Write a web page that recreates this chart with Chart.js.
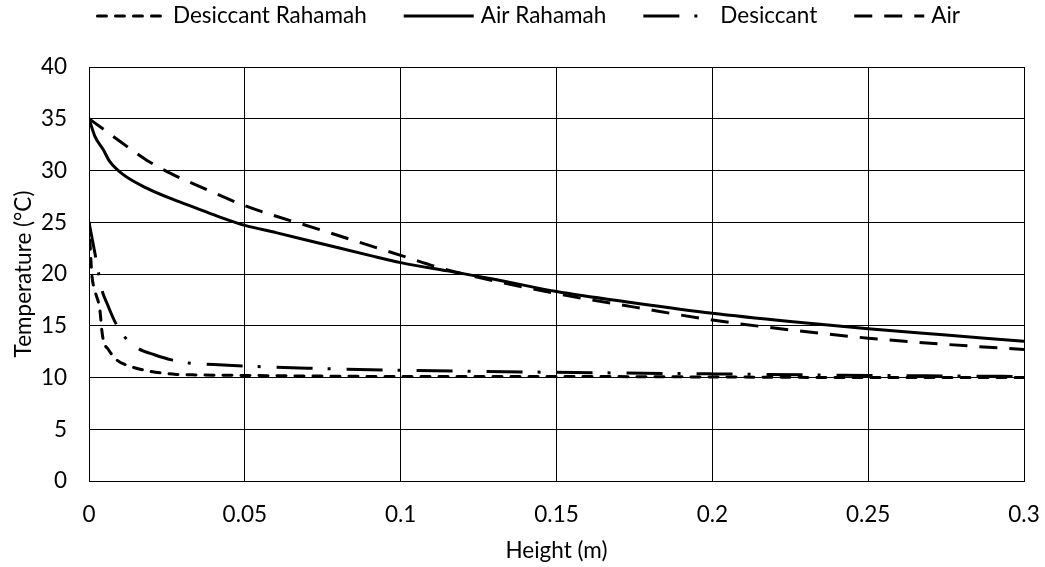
<!DOCTYPE html>
<html><head><meta charset="utf-8">
<script src="https://cdn.jsdelivr.net/npm/chart.js@4/dist/chart.umd.min.js"></script>
<style>html,body{margin:0;padding:0;background:#fff}</style>
</head><body>
<canvas id="c" width="1045" height="567"></canvas>
<script>
const FONT = "Lato, 'Liberation Sans', Arial, sans-serif";
const FSIZE = 22.5;

const seriesNames = ['Desiccant Rahamah', 'Air Rahamah', 'Desiccant', 'Air'];

const desRahHeight = [0, 0.0009, 0.0019, 0.0035, 0.0041, 0.0046, 0.0062, 0.0089, 0.012, 0.0164, 0.0228, 0.028, 0.035, 0.05, 0.1, 0.15, 0.2, 0.25, 0.3];
const desRahTemp   = [25, 20.0, 18.4, 16.5, 14.6, 13.6, 12.7, 11.7, 11.2, 10.8, 10.45, 10.3, 10.25, 10.2, 10.1, 10.1, 10.05, 10.0, 10.0];

const airRahHeight = [0, 0.0019, 0.0046, 0.0067, 0.011, 0.0185, 0.027, 0.035, 0.042, 0.05, 0.06, 0.075, 0.09, 0.1, 0.115, 0.13, 0.15, 0.175, 0.2, 0.225, 0.25, 0.275, 0.3];
const airRahTemp   = [35, 33.3, 32.0, 30.85, 29.6, 28.3, 27.2, 26.3, 25.5, 24.7, 24.0, 22.9, 21.8, 21.1, 20.3, 19.5, 18.3, 17.2, 16.2, 15.4, 14.7, 14.1, 13.5];

const desHeight = [0, 0.0019, 0.003, 0.0041, 0.006, 0.0083, 0.0115, 0.0158, 0.021, 0.0265, 0.032, 0.04, 0.05, 0.07, 0.1, 0.15, 0.2, 0.25, 0.3];
const desTemp   = [25, 22.0, 20.2, 18.5, 17.0, 15.4, 13.9, 12.8, 12.2, 11.7, 11.4, 11.25, 11.1, 10.9, 10.7, 10.5, 10.35, 10.2, 10.1];

const airHeight = [0, 0.0014, 0.01, 0.0185, 0.027, 0.0367, 0.05, 0.075, 0.1, 0.115, 0.15, 0.175, 0.2, 0.225, 0.25, 0.275, 0.3];
const airTemp   = [35, 34.7, 32.8, 31.0, 29.6, 28.3, 26.6, 24.2, 21.8, 20.4, 18.1, 16.8, 15.55, 14.6, 13.8, 13.2, 12.7];

const xTicks = [0, 0.05, 0.1, 0.15, 0.2, 0.25, 0.3];
const yTicks = [0, 5, 10, 15, 20, 25, 30, 35, 40];

function pts(xs, ys) { return xs.map((x, i) => ({ x: x, y: ys[i] })); }

const styles = [
  { dash: [9, 9], cap: 'round' },
  { dash: [], cap: 'butt' },
  { dash: [36, 15, 3, 16], cap: 'butt' },
  { dash: [18, 12], cap: 'butt' }
];
const dataSets = [pts(desRahHeight, desRahTemp), pts(airRahHeight, airRahTemp), pts(desHeight, desTemp), pts(airHeight, airTemp)];

const datasets = seriesNames.map((n, i) => ({
  label: n,
  data: dataSets[i],
  borderColor: '#000',
  backgroundColor: '#000',
  borderWidth: 3,
  borderDash: styles[i].dash,
  borderCapStyle: styles[i].cap,
  pointRadius: 0,
  cubicInterpolationMode: 'monotone',
  fill: false
}));

const legendPlugin = {
  id: 'lineLegend',
  afterDraw(chart) {
    const ctx = chart.ctx;
    ctx.save();
    ctx.font = FSIZE + 'px ' + FONT;
    const sample = 70, toff = 77, igap = 37, center = 528, y = 16;
    const items = chart.data.datasets.map(d => ({ d, w: toff + ctx.measureText(d.label).width }));
    const total = items.reduce((s, it) => s + it.w, 0) + igap * (items.length - 1);
    let x = center - total / 2;
    items.forEach(it => {
      ctx.strokeStyle = '#000';
      ctx.lineWidth = 3;
      ctx.lineCap = it.d.borderCapStyle;
      ctx.setLineDash(it.d.borderDash);
      ctx.beginPath();
      ctx.moveTo(x + (it.d.borderCapStyle === 'round' ? 1.5 : 0), y);
      ctx.lineTo(x + sample, y);
      ctx.stroke();
      ctx.setLineDash([]);
      ctx.fillStyle = '#000';
      ctx.textBaseline = 'middle';
      ctx.textAlign = 'left';
      ctx.fillText(it.d.label, x + toff, y);
      x += it.w + igap;
    });
    ctx.restore();
  }
};

new Chart(document.getElementById('c'), {
  type: 'line',
  data: { datasets },
  options: {
    responsive: false,
    devicePixelRatio: 1,
    animation: false,
    layout: { padding: { top: 67, right: 0, left: 0, bottom: 0 } },
    plugins: { legend: { display: false }, tooltip: { enabled: false } },
    scales: {
      x: {
        type: 'linear', min: 0, max: 0.3,
        afterFit: s => { s.height = 86; s.paddingRight = 21; s.paddingLeft = 0; },
        afterBuildTicks: s => { s.ticks = xTicks.map(v => ({ value: v })); },
        ticks: { color: '#000', font: { family: FONT, size: FSIZE }, padding: 20, maxRotation: 0,
          callback: v => String(v) },
        grid: { color: '#000', lineWidth: 1, drawTicks: false },
        border: { color: '#000', width: 1 },
        title: { display: true, text: 'Height (m)', color: '#000', font: { family: FONT, size: FSIZE }, padding: { top: 0, bottom: 3 } }
      },
      y: {
        type: 'linear', min: 0, max: 40,
        afterFit: s => { s.width = 89; },
        afterBuildTicks: s => { s.ticks = yTicks.map(v => ({ value: v })); },
        ticks: { color: '#000', font: { family: FONT, size: FSIZE }, padding: 22 },
        grid: { color: '#000', lineWidth: 1, drawTicks: false },
        border: { color: '#000', width: 1 },
        title: { display: true, text: 'Temperature (°C)', color: '#000', font: { family: FONT, size: FSIZE }, padding: { top: 10, bottom: 0 } }
      }
    }
  },
  plugins: [legendPlugin]
});
</script>
</body></html>
